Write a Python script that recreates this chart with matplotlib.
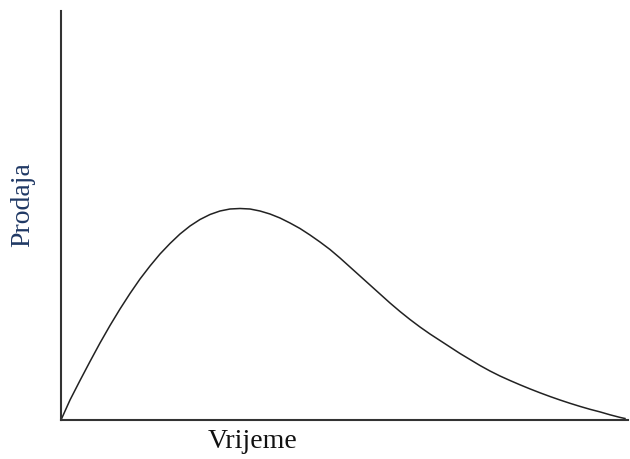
import matplotlib
matplotlib.use("Agg")
import matplotlib.pyplot as plt

# values (arbitrary units)
vrijeme = [0, 9, 19, 29, 39, 49, 59, 69, 79, 89, 99, 109, 119, 129, 139, 149,
           159, 169, 179, 189, 199, 209, 219, 229, 239, 249, 259, 269, 279, 289,
           299, 309, 319, 329, 339, 349, 359, 369, 379, 389, 399, 409, 419, 429,
           439, 449, 459, 469, 479, 489, 499, 509, 519, 529, 539, 549, 559, 564]
prodaja = [0, 20, 39.5, 58.5, 77, 94.5, 111, 126.5, 141, 154, 166, 176.5, 186,
           194, 200.5, 205.5, 209, 211, 211.5, 211, 209, 206, 202, 197, 191.5,
           185, 178, 170.5, 162, 153, 144, 135, 126, 117, 108.5, 100.5, 93, 86,
           79.5, 73, 66.5, 60.5, 54.5, 49, 44, 39.5, 35.2, 31.1, 27.2, 23.5, 20,
           16.7, 13.6, 10.7, 8.1, 5.2, 2.6, 1.5]

x_label = "Vrijeme"
y_label = "Prodaja"

W, H = 630, 460
fig = plt.figure(figsize=(W / 100, H / 100), dpi=100)
ax = fig.add_axes([61 / W, (H - 421) / H, (628 - 61) / W, (421 - 12) / H])

ax.plot(vrijeme, prodaja, color="#222222", linewidth=1.1)

ax.set_xlim(0, 567)
ax.set_ylim(0, 409)
ax.set_xticks([])
ax.set_yticks([])
for side in ["top", "right"]:
    ax.spines[side].set_visible(False)
for side in ["left", "bottom"]:
    ax.spines[side].set_color("#333333")
    ax.spines[side].set_linewidth(1.5)

# axis titles, serif like the original
fig.text(253 / W, 1 - 448 / H, x_label, ha="center", va="baseline",
         fontsize=20, family="Liberation Serif", color="#111111")
fig.text(22.5 / W, 1 - 205 / H, y_label, ha="center", va="center", rotation=90,
         fontsize=20, family="Liberation Serif", color="#1f3864")

fig.savefig("out.png", dpi=100)
